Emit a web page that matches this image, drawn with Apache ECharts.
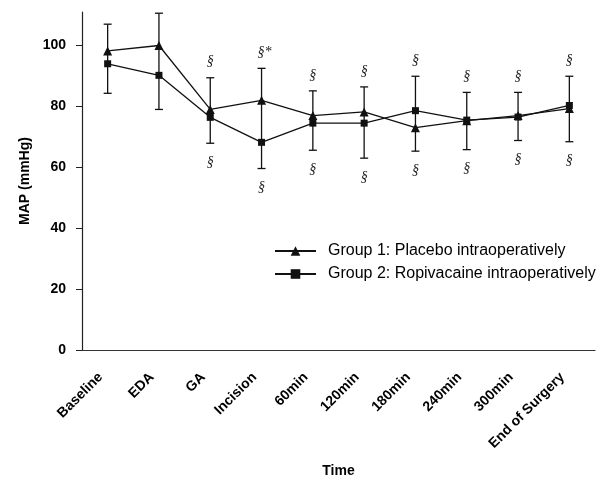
<!DOCTYPE html>
<html lang="en">
<head>
    <meta charset="UTF-8">
    <title>MAP over time</title>
    <script src="https://cdn.jsdelivr.net/npm/echarts@6/dist/echarts.min.js"></script>
    <style>
        body { margin: 0; background: #fff; }
        #main { width: 602px; height: 483px; }
    </style>
</head>
<body>
    <div id="main"></div>
    <script>
        const categories = ['Baseline', 'EDA', 'GA', 'Incision', '60min', '120min', '180min', '240min', '300min', 'End of Surgery'];
        const group1 = [98.2, 100, 79, 82, 77, 78.2, 73, 75.3, 77, 79.3];
        const group2 = [94, 90.2, 76.4, 68.2, 74.5, 74.5, 78.6, 75.5, 76.5, 80.3];
        // error bar ends (one bar per time point)
        const errHigh = [107, 110.6, 89.4, 92.5, 85.1, 86.4, 89.9, 84.6, 84.6, 89.9];
        const errLow = [84.3, 79, 67.9, 59.6, 65.6, 63, 65.3, 65.8, 68.8, 68.4];
        const sigAbove = ['', '', '§', '§*', '§', '§', '§', '§', '§', '§'];
        const sigBelow = ['', '', '§', '§', '§', '§', '§', '§', '§', '§'];
        const yTicks = [0, 20, 40, 60, 80, 100];

        const chart = echarts.init(document.getElementById('main'));

        const axisFont = { fontFamily: 'Liberation Sans', fontSize: 14, fontWeight: 'bold', color: '#000' };

        const option = {
            animation: false,
            grid: { left: 82, right: 7, top: 12, bottom: 131 },
            legend: {
                orient: 'vertical',
                left: 269,
                top: 238,
                itemWidth: 41,
                itemHeight: 12,
                itemGap: 7,
                textStyle: { fontFamily: 'Liberation Sans', fontSize: 16, color: '#000', padding: [0, 0, 0, 7] },
                data: ['Group 1: Placebo intraoperatively', 'Group 2: Ropivacaine intraoperatively']
            },
            xAxis: {
                type: 'category',
                data: categories,
                boundaryGap: true,
                name: 'Time',
                nameLocation: 'middle',
                nameGap: 114,
                nameTextStyle: axisFont,
                axisLine: { lineStyle: { color: '#333', width: 1.2 } },
                axisTick: { interval: 0, length: 5, lineStyle: { color: '#333' } },
                axisLabel: Object.assign({ rotate: 45, interval: 0, margin: 18, padding: [0, 10, 0, 0] }, axisFont)
            },
            yAxis: {
                type: 'value',
                min: 0,
                max: 111,
                name: 'MAP (mmHg)',
                nameLocation: 'middle',
                nameGap: 49,
                nameTextStyle: axisFont,
                splitLine: { show: false },
                axisLine: { show: true, lineStyle: { color: '#222', width: 1.2 } },
                axisTick: { show: true, length: 6, customValues: yTicks, lineStyle: { color: '#222' } },
                axisLabel: Object.assign({ margin: 16, customValues: yTicks }, axisFont)
            },
            series: [
                {
                    type: 'custom',
                    name: 'err',
                    clip: false,
                    z: 1,
                    encode: { x: 0, y: [1, 2] },
                    data: categories.map((c, i) => [i, errLow[i], errHigh[i]]),
                    renderItem: function (params, api) {
                        const i = api.value(0);
                        const top = api.coord([i, api.value(2)]);
                        const bot = api.coord([i, api.value(1)]);
                        const cap = 4;
                        const st = { stroke: '#111', lineWidth: 1.3 };
                        const font = 'italic 14px "Liberation Serif"';
                        const kids = [
                            { type: 'line', shape: { x1: top[0], y1: top[1], x2: bot[0], y2: bot[1] }, style: st },
                            { type: 'line', shape: { x1: top[0] - cap, y1: top[1], x2: top[0] + cap, y2: top[1] }, style: st },
                            { type: 'line', shape: { x1: bot[0] - cap, y1: bot[1], x2: bot[0] + cap, y2: bot[1] }, style: st }
                        ];
                        if (sigAbove[i]) {
                            kids.push({ type: 'text', style: { text: sigAbove[i], x: top[0] + (sigAbove[i].length > 1 ? 3 : 0), y: top[1] - 16, align: 'center', verticalAlign: 'middle', font: font, fill: '#222' } });
                        }
                        if (sigBelow[i]) {
                            kids.push({ type: 'text', style: { text: sigBelow[i], x: bot[0], y: bot[1] + 19, align: 'center', verticalAlign: 'middle', font: font, fill: '#222' } });
                        }
                        return { type: 'group', children: kids };
                    }
                },
                {
                    name: 'Group 1: Placebo intraoperatively',
                    type: 'line',
                    data: group1,
                    symbol: 'triangle',
                    symbolSize: 9,
                    z: 3,
                    lineStyle: { color: '#111', width: 1.3 },
                    itemStyle: { color: '#111' }
                },
                {
                    name: 'Group 2: Ropivacaine intraoperatively',
                    type: 'line',
                    data: group2,
                    symbol: 'rect',
                    symbolSize: 7,
                    z: 3,
                    lineStyle: { color: '#111', width: 1.3 },
                    itemStyle: { color: '#111' }
                }
            ]
        };

        chart.setOption(option);
    </script>
</body>
</html>
